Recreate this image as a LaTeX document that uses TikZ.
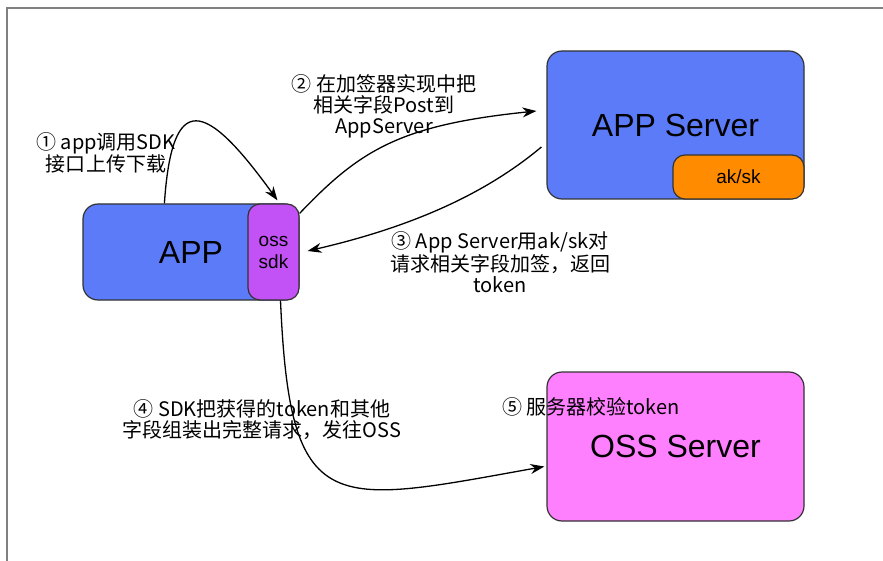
\documentclass[tikz,border=0pt]{standalone}
\usepackage{fontspec}
\newfontfamily\cjk{Noto Sans CJK SC}
\newfontfamily\boxfont{Liberation Sans}
\usetikzlibrary{calc,arrows.meta}

\definecolor{appblue}{RGB}{91,123,249}
\definecolor{sdkpurple}{RGB}{194,82,245}
\definecolor{akorange}{RGB}{255,140,0}
\definecolor{osspink}{RGB}{255,128,255}

\tikzset{
  box/.style={draw=black!80, line width=1.2pt, rounded corners=15pt, inner sep=0pt,
    font=\boxfont\fontsize{32}{36}\selectfont},
  smallbox/.style={box, rounded corners=12pt, font=\boxfont\fontsize{19}{22}\selectfont, align=center},
  steplabel/.style={font=\cjk\fontsize{20}{21}\selectfont, align=center, inner sep=0pt},
  flow/.style={line width=1.3pt, -{Stealth[length=14pt,width=10pt]}}
}

\begin{document}
\begin{tikzpicture}[x=1pt, y=-1pt]
    \useasboundingbox (0,0) rectangle (883,561);
    \draw[gray, line width=1.6pt] (7,561) -- (7,8) -- (883,8);

    \node[box, fill=appblue, minimum width=216, minimum height=96] (app) at (191,252) {APP};
    \node[smallbox, fill=sdkpurple, minimum width=51, minimum height=96, anchor=east] (sdk) at (app.east) {oss\\sdk};
    \node[box, fill=appblue, minimum width=257, minimum height=148] (srv) at (675.5,125) {APP Server};
    \node[smallbox, fill=akorange, minimum width=131, minimum height=44, anchor=south east] (aksk) at (srv.south east) {ak/sk};
    \node[box, fill=osspink, minimum width=257, minimum height=149] (oss) at (675.5,446.5) {OSS Server};

    \node[steplabel] (l1) at (106,153) {① app调用SDK\\接口上传下载};
    \node[steplabel] (l2) at (384,106) {② 在加签器实现中把\\相关字段Post到\\AppServer};
    \node[steplabel] (l3) at (500,262) {③ App Server用ak/sk对\\请求相关字段加签，返回\\token};
    \node[steplabel] (l4) at (262,420) {④ SDK把获得的token和其他\\字段组装出完整请求，发往OSS};
    \node[steplabel] (l5) at (591,407) {⑤ 服务器校验token};

    \draw[flow] ($(app.north west)+(82,0)$) .. controls (172,90) and (205,100) .. ($(sdk.north)+(4,-3)$);
    \draw[flow] ($(sdk.north east)+(0,10)$) .. controls (360,150) and (400,125) .. ($(srv.west)+(-10,-14)$);
    \draw[flow] ($(srv.west)+(-5,22)$) .. controls (490,190) and (420,225) .. ($(sdk.east)+(8,-1)$);
    \draw[flow] ($(sdk.south)+(7,0)$) .. controls (290,520) and (330,505) .. ($(oss.west)+(-2,20)$);
\end{tikzpicture}
\end{document}
